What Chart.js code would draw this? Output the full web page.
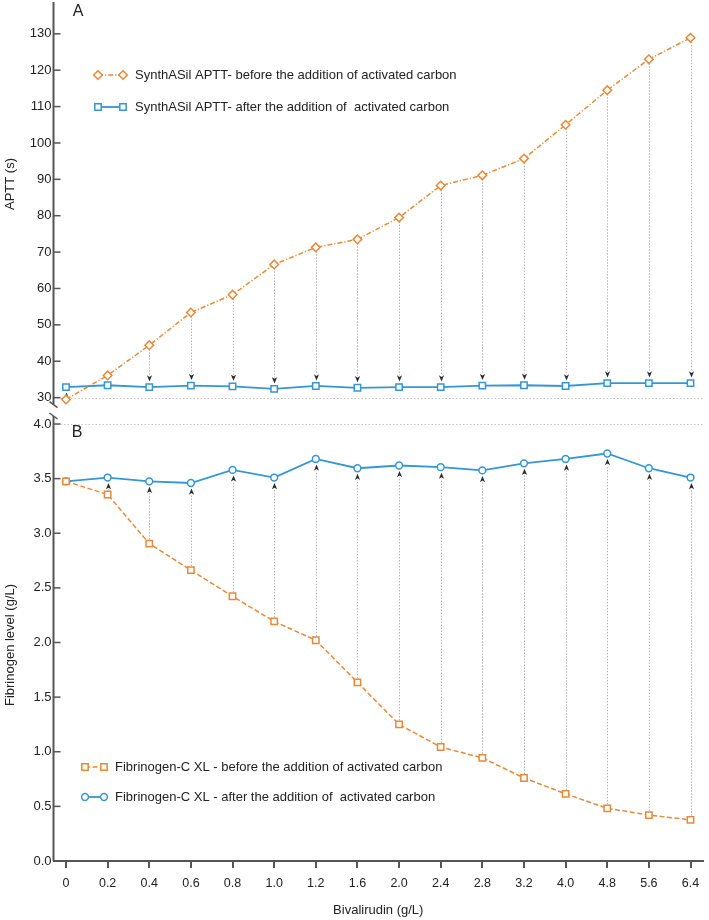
<!DOCTYPE html>
<html><head><meta charset="utf-8">
<script src="https://cdn.jsdelivr.net/npm/chart.js@4.4.1/dist/chart.umd.min.js"></script>
<style>html,body{margin:0;padding:0;background:#fff}#wrap{width:709px;height:920px;position:relative}</style>
</head><body><div id="wrap"><canvas id="c"></canvas></div>
<script>
// ---- data ----
const doseLabels = ['0','0.2','0.4','0.6','0.8','1.0','1.2','1.6','2.0','2.4','2.8','3.2','4.0','4.8','5.6','6.4'];
const apttBefore = [29.5, 36.1, 44.4, 53.4, 58.3, 66.6, 71.3, 73.5, 79.5, 88.3, 91.1, 95.7, 105.0, 114.5, 123.0, 128.9];
const apttAfter  = [32.9, 33.4, 32.9, 33.3, 33.1, 32.4, 33.2, 32.7, 32.9, 32.9, 33.3, 33.4, 33.2, 34.0, 34.0, 34.0];
const fibBefore  = [3.475, 3.355, 2.905, 2.663, 2.423, 2.193, 2.021, 1.635, 1.25, 1.043, 0.944, 0.76, 0.615, 0.482, 0.42, 0.377];
const fibAfter   = [3.475, 3.51, 3.475, 3.46, 3.58, 3.51, 3.68, 3.595, 3.62, 3.605, 3.575, 3.64, 3.68, 3.73, 3.595, 3.51];
const apttTicks  = [30, 40, 50, 60, 70, 80, 90, 100, 110, 120, 130];
const fibTicks   = [0, 0.5, 1.0, 1.5, 2.0, 2.5, 3.0, 3.5, 4.0];
const seriesNames = [
  'SynthASil APTT- before the addition of activated carbon',
  'SynthASil APTT- after the addition of  activated carbon',
  'Fibrinogen-C XL - before the addition of activated carbon',
  'Fibrinogen-C XL - after the addition of  activated carbon'
];
const xTitle = 'Bivalirudin (g/L)';
const yTitleA = 'APTT (s)';
const yTitleB = 'Fibrinogen level (g/L)';

// ---- styles ----
const ORANGE = '#e8893a', BLUE = '#3596d3', AXIS = '#555555', TEXT = '#222222';
const FONT = '"Liberation Sans", Arial, Helvetica, sans-serif';
const pts = arr => arr.map((v, i) => ({x: i, y: v}));

const datasets = [
  {label: seriesNames[0], data: pts(apttBefore), yAxisID: 'yA', borderColor: ORANGE, borderWidth: 1.5,
   borderDash: [5, 2, 1.2, 2], pointStyle: 'rectRot', pointRadius: 4.3, pointBorderWidth: 1.5,
   pointBackgroundColor: '#fff', pointBorderColor: ORANGE},
  {label: seriesNames[1], data: pts(apttAfter), yAxisID: 'yA', borderColor: BLUE, borderWidth: 1.8,
   pointStyle: 'rect', pointRadius: 4.5, pointBorderWidth: 1.5,
   pointBackgroundColor: '#fff', pointBorderColor: BLUE},
  {label: seriesNames[2], data: pts(fibBefore), yAxisID: 'yB', borderColor: ORANGE, borderWidth: 1.5,
   borderDash: [5, 2.5], pointStyle: 'rect', pointRadius: 4.5, pointBorderWidth: 1.5,
   pointBackgroundColor: '#fff', pointBorderColor: ORANGE},
  {label: seriesNames[3], data: pts(fibAfter), yAxisID: 'yB', borderColor: BLUE, borderWidth: 1.8,
   pointStyle: 'circle', pointRadius: 3.4, pointBorderWidth: 1.5,
   pointBackgroundColor: '#fff', pointBorderColor: BLUE}
];

function drawSample(ctx, ds, x1, x2, y) {
  ctx.save();
  ctx.strokeStyle = ds.borderColor; ctx.lineWidth = ds.borderWidth;
  ctx.setLineDash(ds.borderDash || []);
  ctx.beginPath(); ctx.moveTo(x1, y); ctx.lineTo(x2, y); ctx.stroke();
  ctx.setLineDash([]);
  ctx.fillStyle = '#fff'; ctx.strokeStyle = ds.pointBorderColor; ctx.lineWidth = ds.pointBorderWidth;
  [x1, x2].forEach(px => Chart.helpers.drawPoint(ctx, {pointStyle: ds.pointStyle, radius: ds.pointRadius, borderWidth: ds.pointBorderWidth, rotation: 0}, px, y));
  ctx.restore();
}

const deco = {
  id: 'deco',
  beforeDatasetsDraw(chart) {
    const {ctx, chartArea: ca, scales: {x, yA, yB}} = chart;
    ctx.save();
    ctx.strokeStyle = '#c4c4c4'; ctx.lineWidth = 1; ctx.setLineDash([1.5, 2]);
    [[yA, apttTicks[0]], [yB, fibTicks[fibTicks.length - 1]]].forEach(([s, v]) => {
      const y = Math.round(s.getPixelForValue(v)) + 0.5;
      ctx.beginPath(); ctx.moveTo(ca.left, y); ctx.lineTo(ca.right, y); ctx.stroke();
    });
    const conn = (s, before, after) => {
      before.forEach((b, i) => {
        const a = after[i];
        const px = Math.round(x.getPixelForValue(i)) + 0.5;
        const yb = s.getPixelForValue(b), ya = s.getPixelForValue(a);
        if (Math.abs(yb - ya) < 4) return;
        const dir = yb > ya ? -1 : 1;
        const tip = ya - dir * 5.5;
        const base = tip - dir * 6;
        const start = yb + dir * 4;
        if ((base - start) * dir > 0) {
          ctx.strokeStyle = '#b5b5b5'; ctx.lineWidth = 1; ctx.setLineDash([1.5, 1.5]);
          ctx.beginPath(); ctx.moveTo(px, start); ctx.lineTo(px, base); ctx.stroke();
        }
        ctx.setLineDash([]);
        ctx.fillStyle = '#2a2a2a';
        ctx.beginPath(); ctx.moveTo(px, tip); ctx.lineTo(px - 2.6, tip - dir * 6.2);
        ctx.lineTo(px, tip - dir * 4.6); ctx.lineTo(px + 2.6, tip - dir * 6.2); ctx.closePath(); ctx.fill();
      });
    };
    conn(yA, apttBefore, apttAfter);
    conn(yB, fibBefore, fibAfter);
    ctx.restore();
  },
  afterDraw(chart) {
    const {ctx, chartArea: ca, scales: {yA, yB}} = chart;
    ctx.save();
    const ax = ca.left;
    ctx.strokeStyle = AXIS; ctx.lineWidth = 2;
    const aBottom = yA.getPixelForValue(apttTicks[0]) + 7;
    const bTop = yB.getPixelForValue(fibTicks[fibTicks.length - 1]) - 8;
    ctx.beginPath(); ctx.moveTo(ax, 2); ctx.lineTo(ax, aBottom); ctx.stroke();
    ctx.beginPath(); ctx.moveTo(ax, bTop); ctx.lineTo(ax, ca.bottom); ctx.stroke();
    ctx.lineWidth = 1.5;
    ctx.beginPath(); ctx.moveTo(ax - 4, aBottom - 3); ctx.lineTo(ax + 4, aBottom + 3); ctx.stroke();
    ctx.beginPath(); ctx.moveTo(ax - 4, bTop - 3); ctx.lineTo(ax + 4, bTop + 3); ctx.stroke();
    apttTicks.forEach(v => { const y = yA.getPixelForValue(v); ctx.beginPath(); ctx.moveTo(ax, y); ctx.lineTo(ax + 7, y); ctx.stroke(); });
    fibTicks.forEach(v => { const y = yB.getPixelForValue(v); ctx.beginPath(); ctx.moveTo(ax, y); ctx.lineTo(ax + 7, y); ctx.stroke(); });
    ctx.fillStyle = TEXT; ctx.textBaseline = 'middle'; ctx.textAlign = 'center';
    ctx.font = '16px ' + FONT;
    ctx.fillText('A', 78, 12);
    ctx.fillText('B', 77, 433);
    ctx.font = '13px ' + FONT;
    ctx.save(); ctx.translate(10, 184); ctx.rotate(-Math.PI / 2); ctx.fillText(yTitleA, 0, 0); ctx.restore();
    ctx.save(); ctx.translate(10, 645); ctx.rotate(-Math.PI / 2); ctx.fillText(yTitleB, 0, 0); ctx.restore();
    ctx.font = '13px ' + FONT; ctx.textAlign = 'left';
    const ds = chart.data.datasets;
    drawSample(ctx, ds[0], 98, 123, 75); ctx.fillStyle = TEXT; ctx.fillText(ds[0].label, 135, 75);
    drawSample(ctx, ds[1], 98, 123, 107); ctx.fillStyle = TEXT; ctx.fillText(ds[1].label, 135, 107);
    drawSample(ctx, ds[2], 85, 104, 767); ctx.fillStyle = TEXT; ctx.fillText(ds[2].label, 115, 767);
    drawSample(ctx, ds[3], 85, 104, 797); ctx.fillStyle = TEXT; ctx.fillText(ds[3].label, 115, 797);
    ctx.restore();
  }
};

new Chart(document.getElementById('c'), {
  type: 'line',
  data: {datasets},
  plugins: [deco],
  options: {
    responsive: true, maintainAspectRatio: false, animation: false,
    layout: {padding: {left: 0, top: 0, right: 2.6, bottom: 0}},
    plugins: {legend: {display: false}, tooltip: {enabled: false}},
    scales: {
      x: {
        type: 'linear', position: 'bottom', min: -0.3, max: 15.3,
        afterBuildTicks: s => { s.ticks = doseLabels.map((_, i) => ({value: i})); },
        afterFit: s => { s.height = 59; },
        ticks: {callback: v => doseLabels[v], autoSkip: false, maxRotation: 0, padding: 8,
                color: TEXT, font: {family: FONT, size: 12.5}},
        grid: {drawOnChartArea: false, drawTicks: true, tickLength: 7, color: AXIS, lineWidth: 2},
        border: {display: true, color: AXIS, width: 2},
        title: {display: true, text: xTitle, color: TEXT, font: {family: FONT, size: 13}, padding: {top: 0, bottom: 2}}
      },
      yB: {
        type: 'linear', position: 'left', stack: 'panels', stackWeight: 456.5, weight: 0,
        min: 0, max: 4.131,
        afterBuildTicks: s => { s.ticks = fibTicks.map(v => ({value: v})); },
        afterFit: s => { s.width = 53.5; },
        ticks: {callback: v => Number(v).toFixed(1), padding: 2, color: TEXT, font: {family: FONT, size: 13}},
        grid: {display: false, drawTicks: false},
        border: {display: false}
      },
      yA: {
        type: 'linear', position: 'left', stack: 'panels', stackWeight: 404.5, weight: 1,
        min: 26.68, max: 136.6,
        afterBuildTicks: s => { s.ticks = apttTicks.map(v => ({value: v})); },
        afterFit: s => { s.width = 53.5; },
        ticks: {padding: 2, color: TEXT, font: {family: FONT, size: 13}},
        grid: {display: false, drawTicks: false},
        border: {display: false}
      }
    }
  }
});
</script>
</body></html>
